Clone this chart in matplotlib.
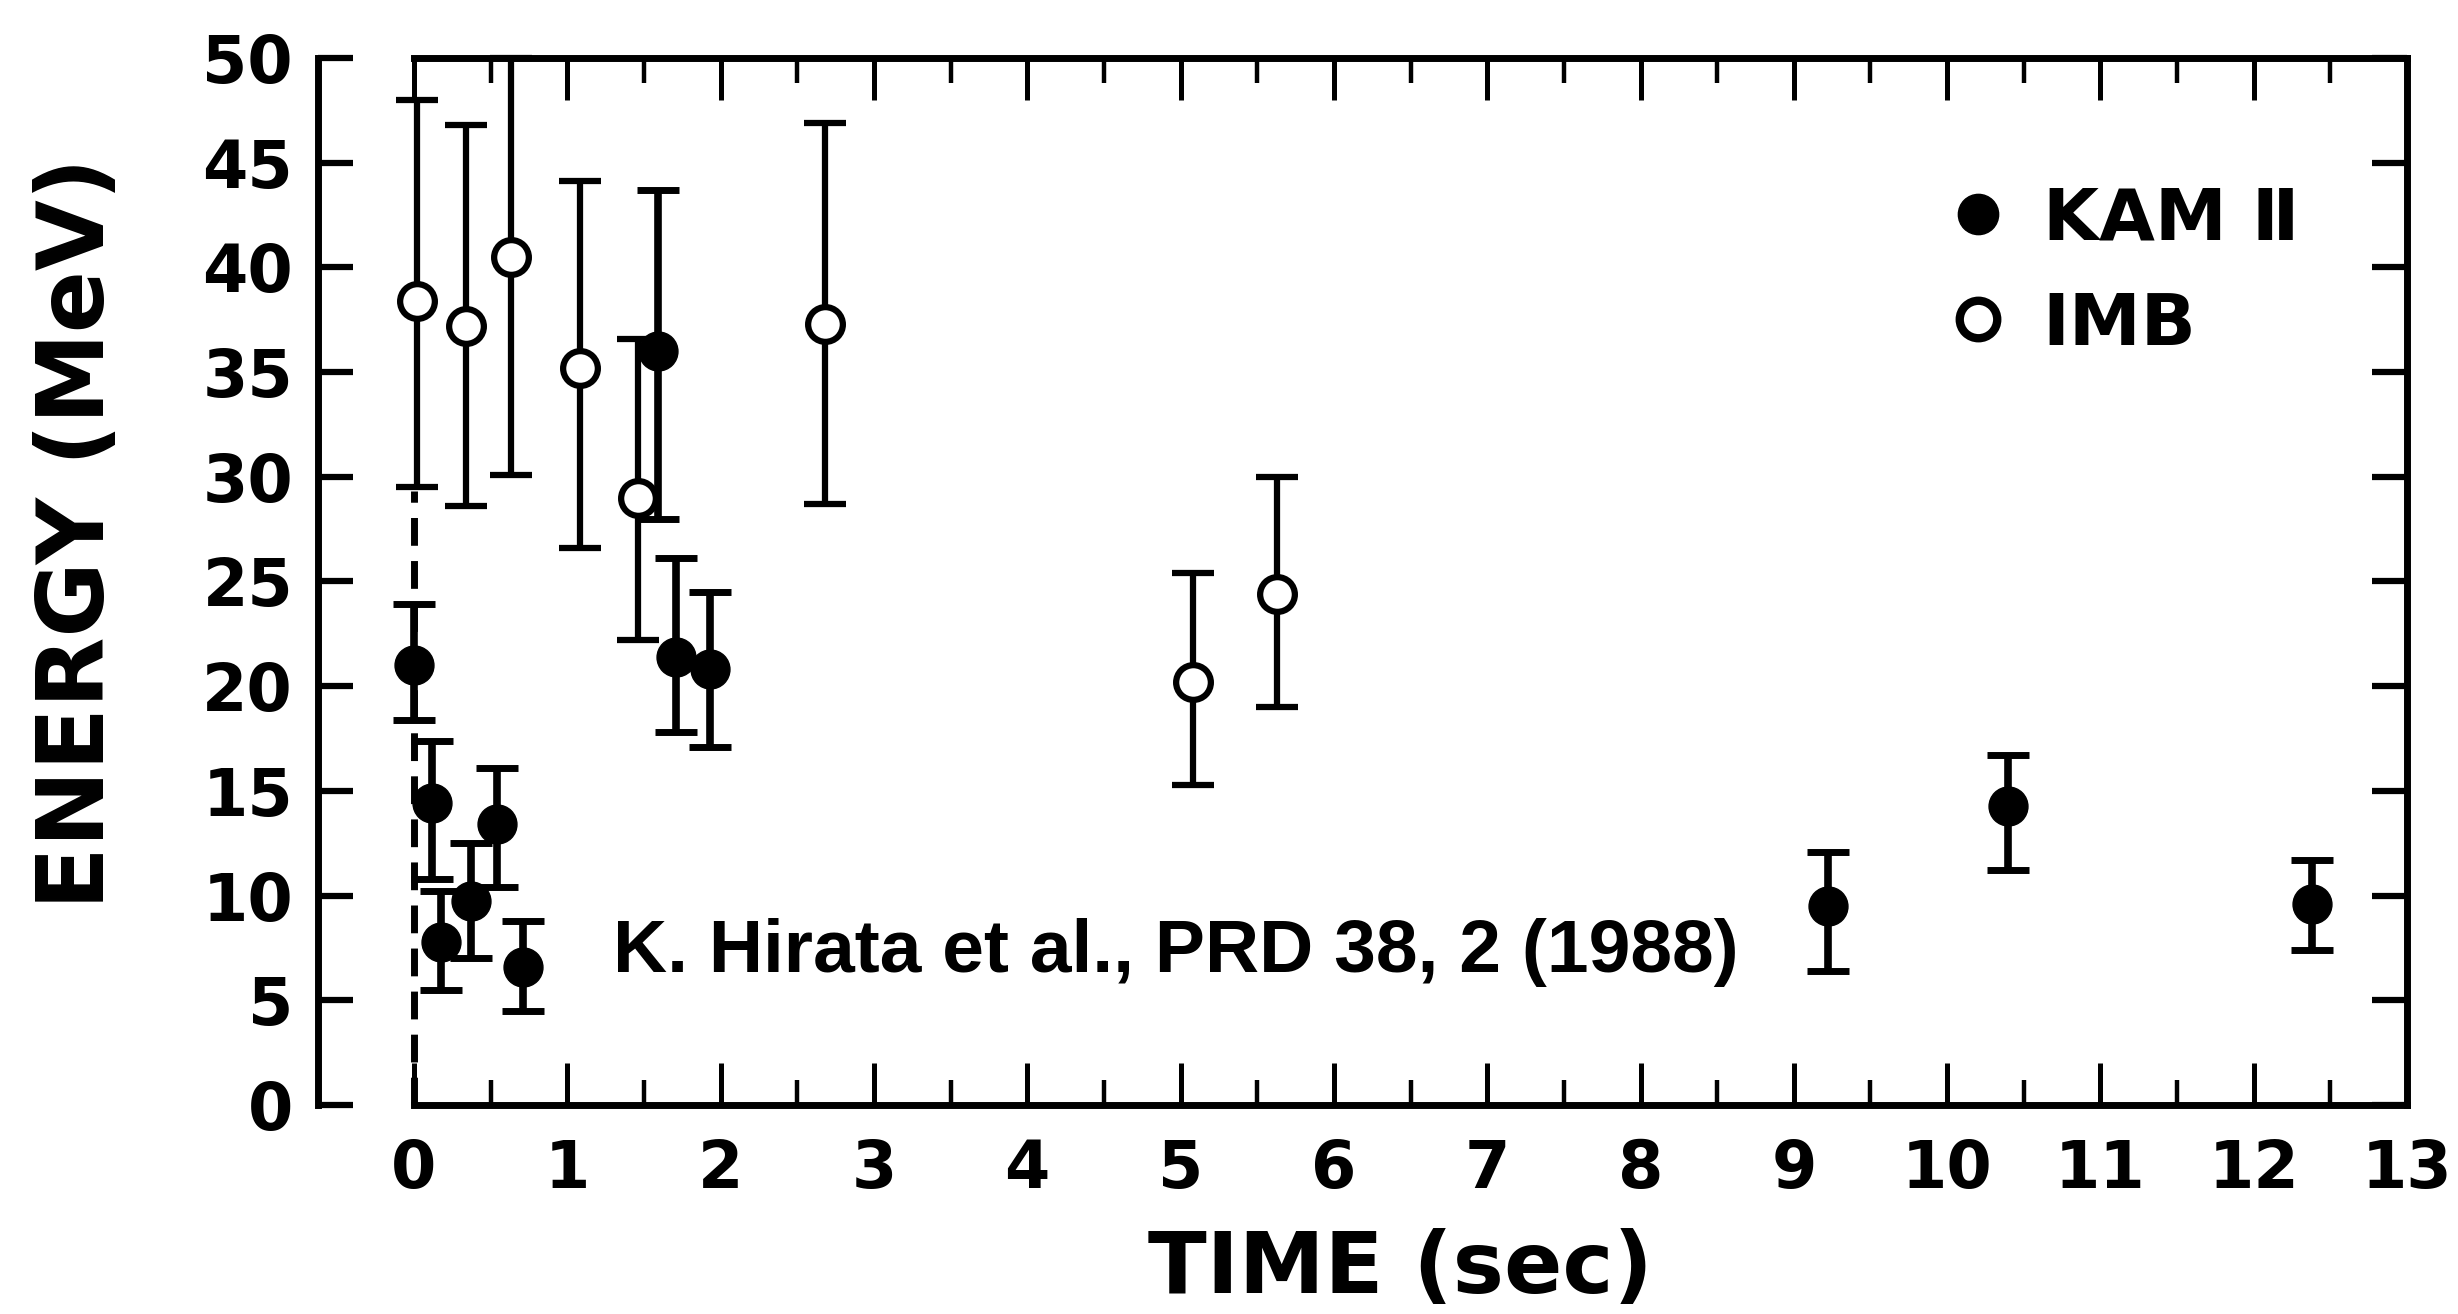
import matplotlib
matplotlib.use('Agg')
import matplotlib.pyplot as plt
from matplotlib.lines import Line2D
from matplotlib.ticker import MultipleLocator

# KAM II events (filled)
kam_t = [0.0, 0.12, 0.175, 0.37, 0.54, 0.71, 1.59, 1.71, 1.93, 9.22, 10.40, 12.38]
kam_e = [21.0, 14.4, 7.8, 9.75, 13.4, 6.6, 36.0, 21.4, 20.8, 9.5, 14.3, 9.6]
kam_hi = [23.9, 17.4, 10.2, 12.5, 16.1, 8.8, 43.7, 26.1, 24.5, 12.1, 16.7, 11.7]
kam_lo = [18.4, 10.8, 5.5, 7.0, 10.4, 4.5, 28.0, 17.8, 17.1, 6.4, 11.2, 7.4]

# IMB events (open)
imb_t = [0.02, 0.34, 0.63, 1.08, 1.46, 2.68, 5.08, 5.63]
imb_e = [38.4, 37.2, 40.5, 35.2, 29.0, 37.3, 20.2, 24.4]
imb_hi = [48.0, 46.8, 50.0, 44.1, 36.6, 46.9, 25.4, 30.0]
imb_lo = [29.5, 28.6, 30.1, 26.6, 22.2, 28.7, 15.3, 19.0]

dash_top = 29.3
x_ticks = list(range(0, 14))
y_ticks = list(range(0, 51, 5))

lw = 5
fig = plt.figure(figsize=(24.58, 13.14), dpi=100)
ax = fig.add_axes([0.1684, 0.1591, 0.8109, 0.7968])
ax.set_xlim(0, 13)
ax.set_ylim(0, 50)

# frame: no left edge on the plot box, y axis drawn off to the left
ax.spines['left'].set_position(('outward', 69))
for s in ax.spines.values():
    s.set_linewidth(lw)

ax.set_xticks(x_ticks)
ax.set_yticks(y_ticks)
ax.xaxis.set_minor_locator(MultipleLocator(0.5))
ax.tick_params(axis='x', which='major', direction='in', length=30, width=3.6,
               top=True, pad=24, labelsize=47)
ax.tick_params(axis='x', which='minor', direction='in', length=18, width=3.2, top=True)
ax.tick_params(axis='y', which='major', direction='in', length=25, width=4.5,
               right=True, pad=18, labelsize=47)
for lab in ax.get_xticklabels() + ax.get_yticklabels():
    lab.set_fontweight('bold')

# dashed line marking t = 0
ax.plot([0, 0], [0, dash_top], color='black', lw=lw, linestyle=(0, (4, 2.2)),
        clip_on=False, zorder=1)

# error bars
kam_err = [[e - l for e, l in zip(kam_e, kam_lo)], [h - e for e, h in zip(kam_e, kam_hi)]]
imb_err = [[e - l for e, l in zip(imb_e, imb_lo)], [h - e for e, h in zip(imb_e, imb_hi)]]

imb = ax.errorbar(imb_t, imb_e, yerr=imb_err, fmt='o', color='black', mfc='white', mec='black',
                  ms=25, mew=4.5, elinewidth=4.5, capsize=15, capthick=5, zorder=3)
kam = ax.errorbar(kam_t, kam_e, yerr=kam_err, fmt='o', color='black', ms=28,
                  elinewidth=5.5, capsize=15, capthick=5, zorder=4)
for cont in (imb, kam):
    for art in cont.get_children():
        art.set_clip_on(False)

ax.text(1.30, 7.3, 'K. Hirata et al., PRD 38, 2 (1988)', fontsize=54, fontweight='bold',
        family=['Liberation Sans Narrow', 'Liberation Sans'], va='center', ha='left')

handles = [Line2D([], [], marker='o', ls='none', color='black', ms=29),
           Line2D([], [], marker='o', ls='none', mfc='white', mec='black', ms=27, mew=6)]
ax.legend(handles, ['KAM \u2161', 'IMB'], loc='center left', bbox_to_anchor=(0.770, 0.795),
          frameon=False, borderpad=0, borderaxespad=0, handlelength=0.8,
          handletextpad=0.5, labelspacing=0.5, prop={'size': 52, 'weight': 'bold'})

fig.text(78 / 2458, 0.594, 'ENERGY (MeV)', rotation=90, fontsize=66, fontweight='bold',
         ha='center', va='center')
fig.text(0.5696, 0.016, 'TIME (sec)', fontsize=62, fontweight='bold',
         ha='center', va='baseline')

plt.savefig('out.png', dpi=100)
